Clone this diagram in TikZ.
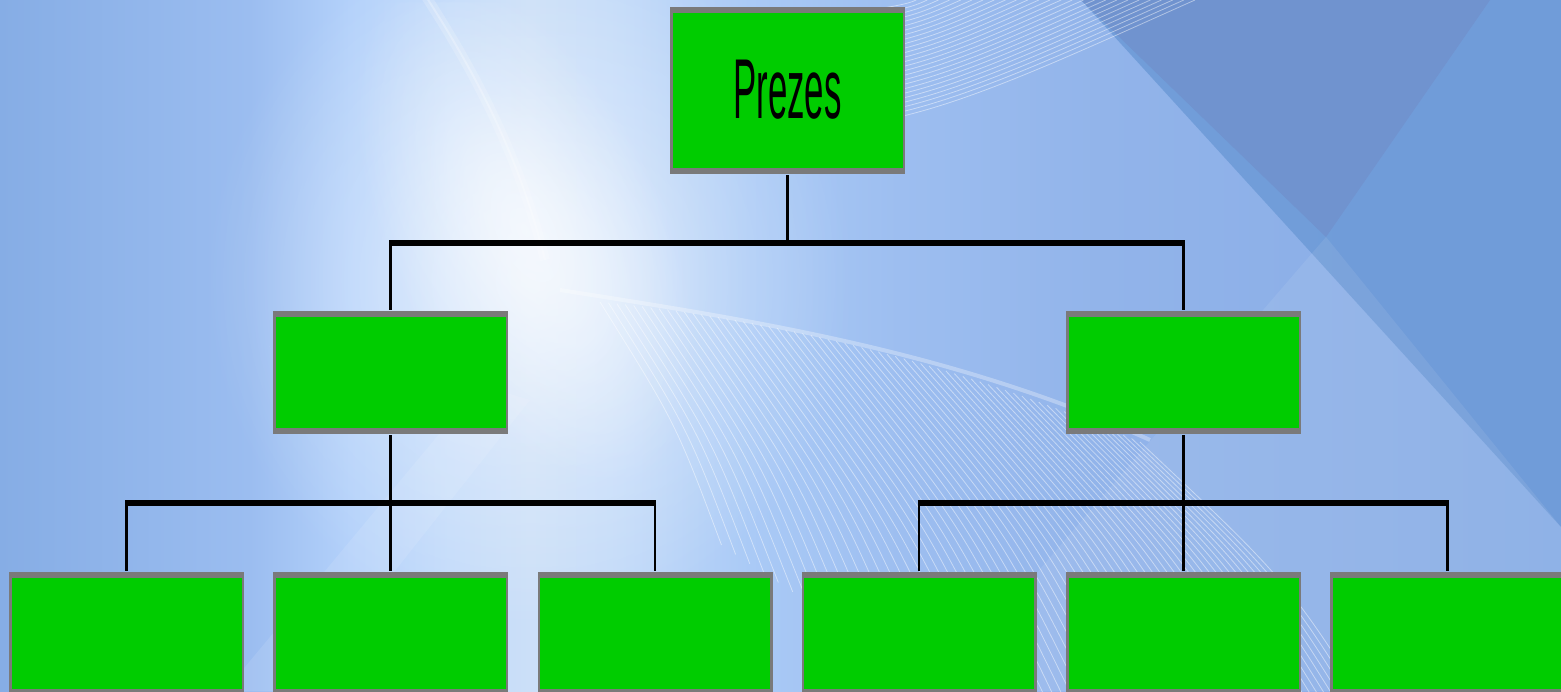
\documentclass[tikz,border=0pt]{standalone}
\usepackage{fontspec}
\setmainfont{Liberation Sans}
\usepackage{graphicx}
\usetikzlibrary{fadings}

\definecolor{boxgreen}{HTML}{00CC00}
\definecolor{boxgray}{HTML}{7A7A7A}
\definecolor{bg0}{HTML}{86ADE5}
\definecolor{bg1}{HTML}{9BBDF0}
\definecolor{bg2}{HTML}{B3D1FA}
\definecolor{bg3}{HTML}{C3DBFA}
\definecolor{bg4}{HTML}{CBDFF8}
\definecolor{bg5}{HTML}{C2DAF9}
\definecolor{bg6}{HTML}{AACAF6}
\definecolor{bg7}{HTML}{9DBEF0}
\definecolor{bg8}{HTML}{92B4EA}
\definecolor{bg9}{HTML}{8DB0E8}
\definecolor{bg10}{HTML}{86ACE5}
\definecolor{darkside}{HTML}{6E9BD8}
\definecolor{darkwedge}{HTML}{7093CF}

% sky gradient from left to right
\pgfdeclarehorizontalshading{skyshade}{100bp}{
  color(0bp)=(bg0); color(25bp)=(bg0); color(33bp)=(bg1); color(36.2bp)=(bg2);
  color(39.4bp)=(bg3); color(42bp)=(bg4); color(44.9bp)=(bg5); color(49bp)=(bg6);
  color(53.8bp)=(bg7); color(60.2bp)=(bg8); color(66.6bp)=(bg9); color(75bp)=(bg10);
  color(100bp)=(bg10)}

% soft round light: opaque centre, clear from 25bp outwards
\pgfdeclareradialshading{glowshade}{\pgfpointorigin}{
  color(0bp)=(white); color(6bp)=(white!80!black); color(14bp)=(white!40!black);
  color(25bp)=(black); color(50bp)=(black)}
\pgfdeclarefading{glowfade}{\pgfuseshading{glowshade}}

\tikzset{
  orgbox/.style={draw=boxgray, line width=2.5pt, fill=boxgreen, inner sep=0pt,
    minimum width=232.5pt, minimum height=#1,
    path picture={
      \fill[boxgray] (path picture bounding box.north west)
        rectangle ([yshift=-5pt]path picture bounding box.north east);
      \fill[boxgray] (path picture bounding box.south west)
        rectangle ([yshift=5pt]path picture bounding box.south east);
    }},
  stem/.style={black, line width=2.5pt, shorten <=1.25pt, shorten >=1.25pt},
  bus/.style={black, line width=5.5pt, shorten <=-1.25pt, shorten >=-1.25pt},
  fanline/.style={white, opacity=0.45, line width=0.8pt},
  glow/.style={white, path fading=glowfade, fit fading=false,
    fading transform={#1}},
}

\begin{document}
\begin{tikzpicture}[x=1pt, y=-1pt]
  \useasboundingbox (0,0) rectangle (1561,691);
  \clip (0,0) rectangle (1561,691);

  % background
  \shade[shading=skyshade] (0,0) rectangle (1561,691);
  \fill[darkside, opacity=0.9] (1081,0) -- (1561,0) -- (1561,527) -- cycle;
  \fill[darkwedge] (1081,0) -- (1490,0) -- (1326,237) -- cycle;
  \fill[white, opacity=0.08] (1326,237) -- (1561,527) -- (1561,691) -- (935,691) -- cycle;

  % soft light
  \fill[glow={shift={(530,280)}, xscale=13, yscale=14}, opacity=0.55] (0,0) rectangle (1561,691);
  \fill[glow={shift={(525,230)}, rotate=25, xscale=5.6, yscale=11}, opacity=0.6] (0,0) rectangle (1561,691);
  \draw[white, opacity=0.18, line width=10pt] (425,-5) .. controls (480,80) and (520,160) .. (545,260);
  \draw[white, opacity=0.25, line width=2pt] (425,-5) .. controls (480,80) and (520,160) .. (545,260);
  \fill[white, opacity=0.1] (225,691) -- (300,691) -- (530,400) -- (480,385) -- cycle;

  % upper fan of thin lines
  \foreach \i in {1,...,26}{
    \pgfmathsetmacro\s{\i/26}
    \pgfmathsetmacro\sx{905+290*\s}
    \pgfmathsetmacro\ax{905+160*\s}
    \pgfmathsetmacro\ay{58*\s}
    \pgfmathsetmacro\bx{905+60*\s}
    \pgfmathsetmacro\by{105*\s}
    \pgfmathsetmacro\ey{117*\s+4}
    \draw[fanline] (\sx,0) .. controls (\ax,\ay) and (\bx,\by) .. (880,\ey);
  }

  % lower fan of thin lines
  \foreach \i in {0,...,64}{
    \pgfmathsetmacro\t{\i/64}
    \pgfmathsetmacro\sx{600+540*\t}
    \pgfmathsetmacro\sy{302+50*\t+90*\t*\t}
    \pgfmathsetmacro\ey{min(720,545+600*\t)}
    \pgfmathsetmacro\k{0.5+0.35*\t}
    \pgfmathsetmacro\ex{\sx+\k*(\ey-\sy)}
    \pgfmathsetmacro\cx{\sx+\k*0.625*(\ey-\sy)}
    \pgfmathsetmacro\cy{\sy+0.5*(\ey-\sy)}
    \draw[fanline] (\sx,\sy) .. controls (\cx,\cy) .. (\ex,\ey);
  }
  \draw[white, opacity=0.3, line width=4pt] (560,290) .. controls (750,320) and (950,350) .. (1150,440);

  % organisation chart
  \node[orgbox=164.5pt] (pres) at (787.5,90.5)
    {\raisebox{2.5pt}{\scalebox{0.41}[1]{\fontsize{85}{85}\selectfont Prezes}}};
  \node[orgbox=120.5pt] (ml) at (390.5,372.5) {};
  \node[orgbox=120.5pt] (mr) at (1183.5,372.5) {};
  \node[orgbox=120.5pt] (b1) at (126.5,633.5) {};
  \node[orgbox=120.5pt] (b2) at (390.5,633.5) {};
  \node[orgbox=120.5pt] (b3) at (655,633.5) {};
  \node[orgbox=120.5pt] (b4) at (919,633.5) {};
  \node[orgbox=120.5pt] (b5) at (1183.5,633.5) {};
  \node[orgbox=120.5pt] (b6) at (1447.5,633.5) {};

  \coordinate (jA) at (787.5,243);
  \coordinate (jB) at (390.5,503);
  \coordinate (jC) at (1183.5,503);

  \draw[stem] (pres.south) -- (jA);
  \draw[stem, shorten <=0pt] (ml.north |- jA) -- (ml.north);
  \draw[stem, shorten <=0pt] (mr.north |- jA) -- (mr.north);
  \draw[bus] (ml.north |- jA) -- (mr.north |- jA);

  \draw[stem] (ml.south) -- (jB);
  \draw[stem, shorten <=0pt] (b1.north |- jB) -- (b1.north);
  \draw[stem, shorten <=0pt] (jB) -- (b2.north);
  \draw[stem, shorten <=0pt] (b3.north |- jB) -- (b3.north);
  \draw[bus] (b1.north |- jB) -- (b3.north |- jB);

  \draw[stem] (mr.south) -- (jC);
  \draw[stem, shorten <=0pt] (b4.north |- jC) -- (b4.north);
  \draw[stem, shorten <=0pt] (jC) -- (b5.north);
  \draw[stem, shorten <=0pt] (b6.north |- jC) -- (b6.north);
  \draw[bus] (b4.north |- jC) -- (b6.north |- jC);
\end{tikzpicture}
\end{document}
